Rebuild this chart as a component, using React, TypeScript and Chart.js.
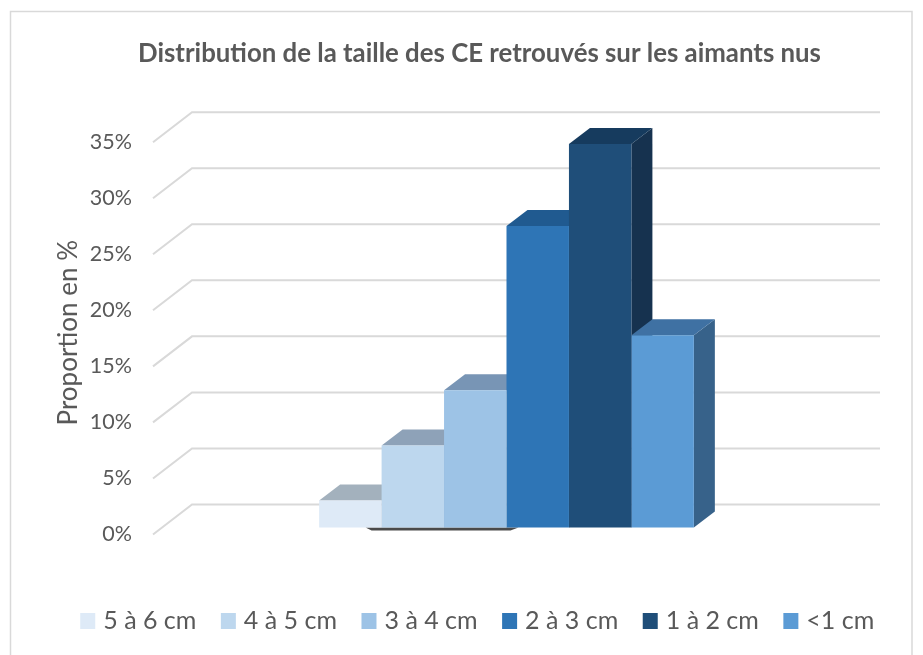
import React, { useEffect, useRef } from "react";
import { Chart, registerables } from "chart.js";

Chart.register(...registerables);

const categories = ["Taille"];
const seriesNames = ["5 à 6 cm", "4 à 5 cm", "3 à 4 cm", "2 à 3 cm", "1 à 2 cm", "<1 cm"];
const seriesValues = [2.4, 7.3, 12.2, 26.8, 34.1, 17.1];
const frontColors = ["#DEEAF7", "#BDD7EE", "#9DC3E6", "#2E75B6", "#1F4E79", "#5B9BD5"];
const topColors = ["#A3B1BD", "#8EA2B8", "#7895B5", "#205A90", "#163B5E", "#3F71A3"];
const sideColors = ["#8F9EAB", "#7F93A8", "#6A87A6", "#1B4E7E", "#16324F", "#37628A"];
const titleText = "Distribution de la taille des CE retrouvés sur les aimants nus";
const axisTitle = "Proportion en %";
const FONT = "Lato, Carlito, sans-serif";
const TEXT = "#595959";
const GRID = "#D9D9D9";

const scene3d = {
  id: "scene3d",
  beforeDraw(chart: any) {
    const { ctx, width } = chart;
    ctx.save();
    ctx.strokeStyle = GRID;
    ctx.lineWidth = 1.5;
    ctx.strokeRect(10.5, 11.5, width - 21.5, 700);
    ctx.restore();
  },
  beforeDatasetsDraw(chart: any) {
    const { ctx, chartArea } = chart;
    const axis = chart.scales.yTicks;
    const wallDx = 39;
    const wallDy = 30;
    ctx.save();
    ctx.strokeStyle = GRID;
    ctx.lineWidth = 2;
    axis.ticks.forEach((t: any) => {
      const y = axis.getPixelForValue(t.value);
      ctx.beginPath();
      ctx.moveTo(chartArea.left, y);
      ctx.lineTo(chartArea.left + wallDx, y - wallDy);
      ctx.lineTo(chartArea.right + 20, y - wallDy);
      ctx.stroke();
    });

    const dx = 21;
    const dy = 16;
    const metas = seriesValues.map((_, i) => chart.getDatasetMeta(i).data[0]);

    // dark shadow under the first bars
    const a = metas[1].x - metas[1].width / 2 - 16;
    const b = metas[3].x - metas[3].width / 2 + 12;
    const base = metas[0].base;
    ctx.fillStyle = "#4A4A4A";
    ctx.beginPath();
    ctx.moveTo(a, base);
    ctx.lineTo(b, base);
    ctx.lineTo(b - 8, base + 3);
    ctx.lineTo(a + 6, base + 3);
    ctx.closePath();
    ctx.fill();

    metas.forEach((bar: any, i: number) => {
      const l = bar.x - bar.width / 2;
      const r = bar.x + bar.width / 2;
      const top = bar.y;
      const bottom = bar.base;
      ctx.fillStyle = sideColors[i];
      ctx.beginPath();
      ctx.moveTo(r, top);
      ctx.lineTo(r + dx, top - dy);
      ctx.lineTo(r + dx, bottom - dy);
      ctx.lineTo(r, bottom);
      ctx.closePath();
      ctx.fill();
      ctx.fillStyle = topColors[i];
      ctx.beginPath();
      ctx.moveTo(l, top);
      ctx.lineTo(l + dx, top - dy);
      ctx.lineTo(r + dx, top - dy);
      ctx.lineTo(r, top);
      ctx.closePath();
      ctx.fill();
    });
    ctx.restore();
  },
};

export default function App() {
  const ref = useRef<HTMLCanvasElement | null>(null);
  useEffect(() => {
    if (!ref.current) return;
    const chart = new Chart(ref.current, {
      type: "bar",
      data: {
        labels: categories,
        datasets: seriesNames.map((name, i) => ({
          label: name,
          data: [seriesValues[i]],
          backgroundColor: frontColors[i],
          borderWidth: 0,
          yAxisID: "y",
          categoryPercentage: 0.53,
          barPercentage: 1,
        })),
      },
      options: {
        responsive: false,
        animation: false,
        layout: { padding: { left: 36, right: 0, top: 0, bottom: 11.5 } },
        plugins: {
          tooltip: { enabled: false },
          title: {
            display: true,
            text: titleText,
            color: TEXT,
            font: { family: FONT, size: 25.8, weight: "bold" },
            padding: { top: 38, bottom: 62 },
          },
          legend: {
            position: "bottom",
            labels: {
              color: TEXT,
              font: { family: FONT, size: 25 },
              boxWidth: 6,
              boxHeight: 7,
              padding: 29,
              generateLabels: (chart: any) =>
                Chart.defaults.plugins.legend.labels.generateLabels(chart).map((item: any, i: number) => ({
                  ...item,
                  lineWidth: 9,
                  strokeStyle: frontColors[i],
                  fillStyle: frontColors[i],
                })),
            },
          },
        },
        scales: {
          x: {
            grid: { display: false, drawTicks: false },
            border: { display: false },
            ticks: { display: false },
            afterFit: (s: any) => {
              s.height = 45;
            },
          },
          y: {
            position: "right",
            min: -0.62,
            max: 35.26,
            grid: { display: false, drawTicks: false },
            border: { display: false },
            ticks: { display: false },
            afterFit: (s: any) => {
              s.width = 63;
            },
          },
          yTicks: {
            axis: "y",
            position: "left",
            min: 0,
            max: 36,
            grid: { display: false, drawTicks: false },
            border: { display: false },
            ticks: {
              stepSize: 5,
              includeBounds: false,
              color: TEXT,
              font: { family: FONT, size: 21.5 },
              padding: 21,
              callback: (v: any) => `${v}%`,
            },
            title: {
              display: true,
              text: axisTitle,
              color: TEXT,
              font: { family: FONT, size: 26 },
              padding: { top: 17, bottom: 0 },
            },
            afterFit: (s: any) => {
              s.width = 117;
            },
          },
        },
      } as any,
      plugins: [scene3d],
    });
    return () => chart.destroy();
  }, []);
  return (
    <div style={{ position: "fixed", left: 0, top: 0, width: 923, height: 655, background: "#fff" }}>
      <canvas ref={ref} width={923} height={655} style={{ display: "block" }} />
    </div>
  );
}
